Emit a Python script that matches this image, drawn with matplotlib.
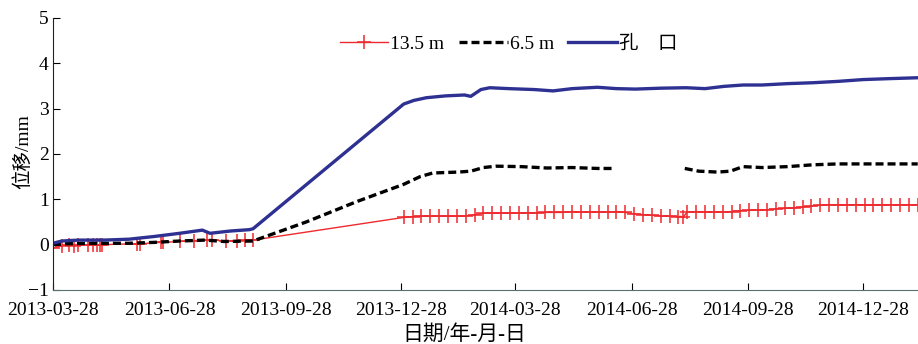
import numpy as np
import pandas as pd
import matplotlib
matplotlib.use("Agg")
import matplotlib.pyplot as plt

plt.rcParams['font.family'] = ['Liberation Serif', 'Noto Sans CJK SC']
plt.rcParams['axes.unicode_minus'] = True

START = pd.Timestamp("2013-03-28")

# 13.5 m (days after 2013-03-28, displacement mm)
red_days = [0, 7, 13, 17, 20, 28, 32, 35, 37, 39, 66, 69, 85, 87, 100, 111, 122, 126,
            137, 145, 152, 158,
            277, 284, 291, 298, 305, 312, 319, 326, 333, 340, 347, 354, 361, 368, 375,
            382, 389, 396, 403, 410, 417, 424, 431, 438, 445, 452, 459, 466, 473, 480,
            487, 494, 498, 501, 508, 515, 522, 529, 536, 543, 550, 557, 564, 571, 578,
            585, 592, 599, 606, 613, 620, 627, 634, 641, 648, 655, 662, 669, 676, 683]
red_vals = [-0.08, -0.02, 0.0, -0.02, 0.0, 0.0, 0.0, 0.0, 0.0, 0.0, 0.02, 0.02, 0.05,
            0.05, 0.07, 0.08, 0.1, 0.1, 0.08, 0.08, 0.1, 0.1,
            0.6, 0.62, 0.63, 0.63, 0.63, 0.63, 0.63, 0.63, 0.66, 0.69, 0.7, 0.7, 0.7,
            0.7, 0.7, 0.7, 0.71, 0.71, 0.71, 0.73, 0.72, 0.72, 0.72, 0.72, 0.73, 0.71,
            0.68, 0.66, 0.65, 0.63, 0.63, 0.62, 0.62, 0.72, 0.73, 0.72, 0.72, 0.72, 0.73,
            0.75, 0.76, 0.76, 0.77, 0.79, 0.8, 0.81, 0.83, 0.85, 0.87, 0.88, 0.88, 0.88,
            0.88, 0.88, 0.88, 0.88, 0.88, 0.88, 0.88, 0.88]

# 6.5 m (gap = missing readings)
blk_days = [0, 10, 30, 60, 80, 100, 120, 135, 158, 200, 240, 277, 290, 300, 320, 330,
            340, 350, 370, 390, 410, 430, 442, 470, 499, 510, 525, 535, 545, 560, 580,
            600, 620, 650, 683]
blk_vals = [0.0, 0.02, 0.03, 0.03, 0.05, 0.08, 0.1, 0.07, 0.08, 0.5, 0.95, 1.33, 1.5,
            1.58, 1.6, 1.62, 1.7, 1.73, 1.72, 1.69, 1.7, 1.68, 1.68, np.nan, 1.68, 1.62,
            1.6, 1.62, 1.72, 1.7, 1.72, 1.76, 1.78, 1.78, 1.78]

# 孔口
blu_days = [0, 7, 20, 40, 60, 80, 100, 118, 124, 140, 155, 158, 277, 285, 295, 310,
            325, 330, 338, 345, 360, 380, 395, 410, 430, 445, 460, 480, 500, 515, 530,
            545, 560, 580, 600, 620, 640, 660, 683]
blu_vals = [0.03, 0.08, 0.1, 0.1, 0.12, 0.18, 0.25, 0.32, 0.25, 0.3, 0.33, 0.35, 3.1,
            3.18, 3.24, 3.28, 3.3, 3.27, 3.42, 3.46, 3.44, 3.42, 3.39, 3.44, 3.47, 3.44,
            3.43, 3.45, 3.46, 3.44, 3.49, 3.52, 3.52, 3.55, 3.57, 3.6, 3.64, 3.66, 3.68]

tick_dates = ["2013-03-28", "2013-06-28", "2013-09-28", "2013-12-28",
              "2014-03-28", "2014-06-28", "2014-09-28", "2014-12-28"]


def to_dates(days):
    return START + pd.to_timedelta(days, unit="D")


fig = plt.figure(figsize=(9.18, 3.44), dpi=100)
ax = fig.add_axes([0.0577, 0.157, 0.942, 0.791])

ax.plot(to_dates(red_days), red_vals, color="#ee2a2e", lw=1.0, marker="+",
        markersize=10, markeredgewidth=1.1, label="13.5 m")
ax.plot(to_dates(blk_days), blk_vals, color="black", lw=2.4, dashes=(2.4, 1.2),
        label="6.5 m")
ax.plot(to_dates(blu_days), blu_vals, color="#2e3192", lw=2.4, label="孔　口")

ax.set_xlim(START, START + pd.Timedelta(days=683))
ax.set_ylim(-1, 5)
ax.set_yticks(range(-1, 6))
ax.set_yticklabels(["\u22121", "0", "1", "2", "3", "4", "5"])
ax.set_xticks(pd.to_datetime(tick_dates))
ax.set_xticklabels(tick_dates)

for s in ("top", "right"):
    ax.spines[s].set_visible(False)
ax.spines["bottom"].set_color("#5a7070")
ax.spines["left"].set_color("#222222")
ax.tick_params(direction="in", length=5, labelsize=14, width=0.8)
ax.tick_params(axis="x", pad=9)
ax.tick_params(axis="y", pad=3)

ax.set_ylabel("位移/mm", fontsize=14)
ax.yaxis.set_label_coords(-0.024, 0.51)
ax.set_xlabel("日期/年-月-日", fontsize=15)
ax.xaxis.set_label_coords(0.476, -0.128)

ax.legend(loc="center", bbox_to_anchor=(0.527, 0.905), ncol=3, frameon=False,
          fontsize=14, handlelength=2.5, columnspacing=0.75, handletextpad=0.1)

fig.savefig("out.png", dpi=100, facecolor="white")
